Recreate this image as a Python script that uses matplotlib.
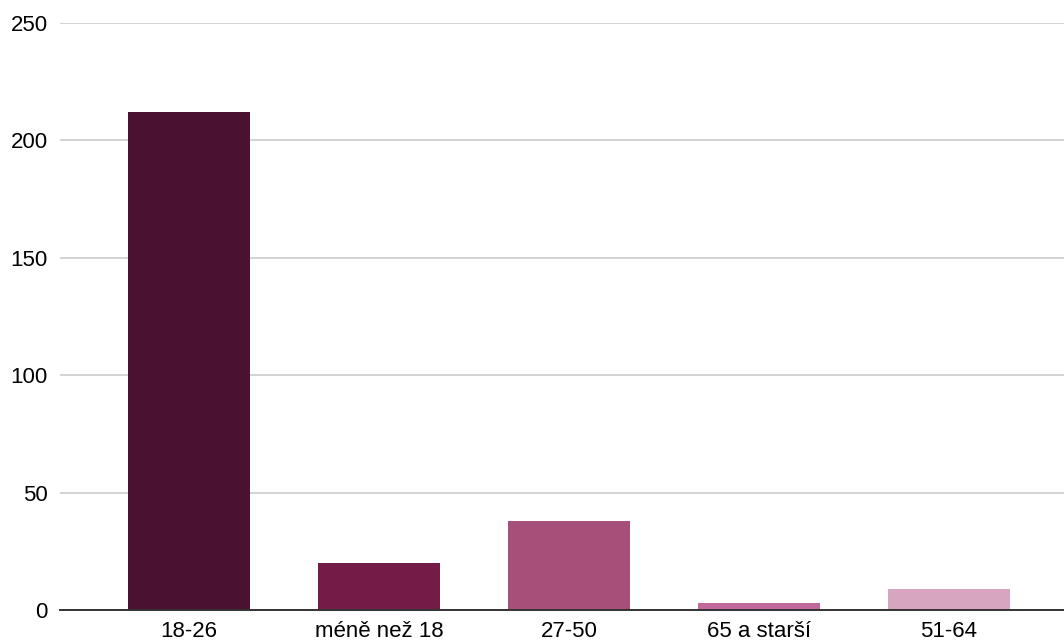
import matplotlib
matplotlib.use("Agg")
import matplotlib.pyplot as plt

categories = ["18-26", "méně než 18", "27-50", "65 a starší", "51-64"]
values = [212, 20, 38, 3, 9]
colors = ["#4a1230", "#741c48", "#a64f79", "#c1699a", "#d7a5bf"]
yticks = [0, 50, 100, 150, 200, 250]

plt.rcParams['font.family'] = ['Liberation Sans', 'DejaVu Sans']

fig = plt.figure(figsize=(10.64, 6.43), dpi=100)
ax = fig.add_axes([60 / 1064, 33 / 643, 1 - 60 / 1064, (610 - 23) / 643])

x = list(range(len(categories)))
ax.bar(x, values, width=0.645, color=colors, zorder=3)

ax.set_xlim(-0.679, 4.605)
ax.set_ylim(0, 250)
ax.set_yticks(yticks)
ax.set_yticklabels([str(t) for t in yticks])
ax.set_xticks(x)
ax.set_xticklabels(categories)

ax.grid(axis='y', color='#cccccc', linewidth=1.2, zorder=0)
ax.set_axisbelow(True)
for s in ['top', 'right', 'left']:
    ax.spines[s].set_visible(False)
ax.spines['bottom'].set_color('#333333')
ax.spines['bottom'].set_linewidth(1.4)
ax.spines['bottom'].set_zorder(4)

ax.tick_params(axis='both', length=0, labelsize=16, colors='#000000')
ax.tick_params(axis='y', pad=9)
ax.tick_params(axis='x', pad=8)

fig.savefig("out.png", dpi=100)
